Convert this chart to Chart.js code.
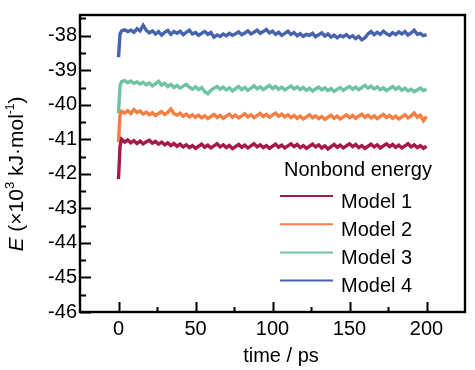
<!DOCTYPE html>
<html>
<head>
<meta charset="utf-8">
<script src="https://cdn.jsdelivr.net/npm/chart.js@4.4.0/dist/chart.umd.min.js"></script>
<style>
body{margin:0;background:#fff;}
#wrap{width:475px;height:370px;}
</style>
</head>
<body>
<div id="wrap"><canvas id="chart" width="475" height="370"></canvas></div>
<script>
// time axis (ps)
var time = [0,1,2,4,6,8,10,12,14,16,18,20,22,24,26,28,30,32,34,36,38,40,42,44,46,48,50,52,54,56,58,60,62,64,66,68,70,72,74,76,78,80,82,84,86,88,90,92,94,96,98,100,102,104,106,108,110,112,114,116,118,120,122,124,126,128,130,132,134,136,138,140,142,144,146,148,150,152,154,156,158,160,162,164,166,168,170,172,174,176,178,180,182,184,186,188,190,192,194,196,198,200];

// nonbond energy, x10^3 kJ/mol
var model1 = [-42.15,-41.20,-41.00,-41.08,-41.02,-41.10,-41.04,-41.12,-41.05,-41.13,-41.07,-41.03,-41.11,-41.06,-41.14,-41.08,-41.16,-41.10,-41.18,-41.12,-41.20,-41.14,-41.22,-41.16,-41.24,-41.18,-41.26,-41.20,-41.14,-41.23,-41.17,-41.25,-41.19,-41.13,-41.22,-41.16,-41.24,-41.18,-41.27,-41.21,-41.15,-41.23,-41.17,-41.25,-41.19,-41.13,-41.22,-41.16,-41.24,-41.18,-41.26,-41.20,-41.14,-41.23,-41.17,-41.25,-41.19,-41.13,-41.21,-41.15,-41.24,-41.18,-41.26,-41.20,-41.14,-41.22,-41.16,-41.25,-41.19,-41.28,-41.21,-41.15,-41.23,-41.17,-41.25,-41.19,-41.13,-41.21,-41.15,-41.24,-41.18,-41.26,-41.20,-41.14,-41.22,-41.16,-41.25,-41.19,-41.13,-41.21,-41.15,-41.23,-41.17,-41.25,-41.19,-41.13,-41.22,-41.16,-41.24,-41.18,-41.26,-41.20];
var model2 = [-41.08,-40.30,-40.19,-40.24,-40.17,-40.25,-40.14,-40.22,-40.18,-40.27,-40.21,-40.29,-40.23,-40.31,-40.25,-40.20,-40.28,-40.22,-40.12,-40.26,-40.30,-40.24,-40.33,-40.27,-40.35,-40.29,-40.36,-40.30,-40.38,-40.32,-40.40,-40.34,-40.28,-40.37,-40.31,-40.39,-40.33,-40.27,-40.36,-40.30,-40.38,-40.32,-40.26,-40.35,-40.29,-40.37,-40.31,-40.25,-40.34,-40.28,-40.36,-40.30,-40.24,-40.33,-40.27,-40.35,-40.29,-40.37,-40.31,-40.39,-40.33,-40.41,-40.35,-40.29,-40.38,-40.32,-40.40,-40.34,-40.42,-40.36,-40.30,-40.39,-40.33,-40.41,-40.35,-40.29,-40.37,-40.31,-40.39,-40.33,-40.27,-40.36,-40.30,-40.38,-40.32,-40.40,-40.34,-40.28,-40.37,-40.31,-40.39,-40.33,-40.41,-40.35,-40.29,-40.38,-40.32,-40.24,-40.36,-40.30,-40.46,-40.34];
var model3 = [-40.25,-39.45,-39.33,-39.30,-39.36,-39.31,-39.38,-39.34,-39.40,-39.35,-39.42,-39.37,-39.45,-39.39,-39.32,-39.43,-39.38,-39.47,-39.41,-39.50,-39.44,-39.52,-39.46,-39.41,-39.49,-39.55,-39.48,-39.56,-39.50,-39.62,-39.68,-39.58,-39.52,-39.47,-39.55,-39.49,-39.57,-39.51,-39.60,-39.53,-39.47,-39.56,-39.50,-39.58,-39.52,-39.45,-39.54,-39.48,-39.56,-39.50,-39.44,-39.53,-39.47,-39.55,-39.49,-39.57,-39.51,-39.46,-39.54,-39.48,-39.56,-39.50,-39.58,-39.52,-39.60,-39.54,-39.49,-39.57,-39.51,-39.59,-39.53,-39.61,-39.55,-39.50,-39.58,-39.52,-39.47,-39.55,-39.49,-39.56,-39.50,-39.44,-39.52,-39.46,-39.54,-39.48,-39.56,-39.51,-39.59,-39.53,-39.47,-39.55,-39.49,-39.58,-39.52,-39.60,-39.55,-39.62,-39.57,-39.51,-39.59,-39.54];
var model4 = [-38.62,-37.95,-37.86,-37.83,-37.88,-37.84,-37.90,-37.80,-37.86,-37.70,-37.84,-37.92,-37.86,-37.95,-37.88,-37.98,-37.90,-37.85,-37.96,-37.88,-37.93,-37.87,-37.97,-37.90,-37.84,-37.95,-37.91,-37.99,-37.93,-37.88,-37.96,-37.91,-38.04,-37.98,-38.02,-37.95,-38.00,-37.93,-37.99,-37.94,-37.89,-37.97,-37.92,-37.86,-37.95,-37.90,-37.84,-37.93,-37.88,-37.82,-37.92,-37.87,-37.96,-37.90,-37.99,-37.93,-37.87,-37.96,-37.91,-38.00,-37.94,-38.02,-37.96,-37.99,-37.93,-38.03,-37.97,-37.92,-38.01,-37.95,-38.04,-37.98,-38.06,-37.99,-38.03,-37.97,-38.05,-38.00,-38.08,-38.02,-38.12,-38.06,-37.95,-37.88,-37.97,-37.90,-37.96,-37.87,-37.94,-37.99,-37.91,-37.97,-37.89,-37.95,-37.88,-37.98,-37.92,-37.84,-37.96,-37.93,-38.00,-37.97];

var seriesNames = ['Model 1', 'Model 2', 'Model 3', 'Model 4'];
var seriesColors = ['#a5194a', '#f47e43', '#6fc2a2', '#4863ad'];
var legendTitle = 'Nonbond energy';
var xTicks = [0, 50, 100, 150, 200];
var xMinor = [25, 75, 125, 175];
var yTicks = [-46, -45, -44, -43, -42, -41, -40, -39, -38];
var yMinor = [-45.5, -44.5, -43.5, -42.5, -41.5, -40.5, -39.5, -38.5, -37.5];

var FONT = "'Liberation Sans', Arial, sans-serif";

function pts(vals) {
    return time.map(function(t, i) { return {x: t, y: vals[i]}; });
}

var allSeries = [model1, model2, model3, model4];
var datasets = allSeries.map(function(vals, i) {
    return {
        label: seriesNames[i],
        data: pts(vals),
        borderColor: seriesColors[i],
        borderWidth: 3.4,
        borderJoinStyle: 'miter',
        pointRadius: 0,
        tension: 0,
        fill: false
    };
});

// frame, inward ticks, axis titles and the legend inside the plot
var decor = {
    id: 'decor',
    afterDraw: function(chart) {
        var ctx = chart.ctx, a = chart.chartArea;
        var xs = chart.scales.x, ys = chart.scales.y;
        ctx.save();
        ctx.strokeStyle = '#000';
        ctx.lineWidth = 2;
        ctx.beginPath();
        xTicks.forEach(function(v) {
            var p = Math.round(xs.getPixelForValue(v)) + 0.5;
            ctx.moveTo(p, a.bottom); ctx.lineTo(p, a.bottom - 10);
        });
        xMinor.forEach(function(v) {
            var p = Math.round(xs.getPixelForValue(v)) + 0.5;
            ctx.moveTo(p, a.bottom); ctx.lineTo(p, a.bottom - 5);
        });
        yTicks.forEach(function(v) {
            var p = Math.round(ys.getPixelForValue(v)) + 0.5;
            ctx.moveTo(a.left, p); ctx.lineTo(a.left + 11, p);
        });
        yMinor.forEach(function(v) {
            var p = Math.round(ys.getPixelForValue(v)) + 0.5;
            ctx.moveTo(a.left, p); ctx.lineTo(a.left + 6, p);
        });
        ctx.stroke();
        ctx.lineWidth = 2.4;
        ctx.strokeRect(a.left, a.top, a.right - a.left, a.bottom - a.top);

        // x title
        ctx.fillStyle = '#000';
        ctx.font = '20px ' + FONT;
        ctx.textAlign = 'center';
        ctx.textBaseline = 'alphabetic';
        ctx.fillText('time / ps', 281, 362);

        // y title with italic E and superscripts
        var parts = [
            {t: 'E', f: 'italic 21px ' + FONT, dy: 0},
            {t: ' (\u00d710', f: '21px ' + FONT, dy: 0},
            {t: '3', f: '13px ' + FONT, dy: -9},
            {t: ' kJ\u00b7mol', f: '21px ' + FONT, dy: 0},
            {t: '-1', f: '12px ' + FONT, dy: -9},
            {t: ')', f: '21px ' + FONT, dy: 0}
        ];
        var total = 0;
        parts.forEach(function(p) { ctx.font = p.f; p.w = ctx.measureText(p.t).width; total += p.w; });
        ctx.translate(23, 174);
        ctx.rotate(-Math.PI / 2);
        ctx.textAlign = 'left';
        var cx = -total / 2;
        parts.forEach(function(p) {
            ctx.font = p.f;
            ctx.fillText(p.t, cx, p.dy);
            cx += p.w;
        });
        ctx.restore();

        // legend
        ctx.save();
        ctx.fillStyle = '#000';
        ctx.font = '20px ' + FONT;
        ctx.textBaseline = 'alphabetic';
        ctx.textAlign = 'left';
        ctx.fillText(legendTitle, 284, 176);
        chart.data.datasets.forEach(function(ds, i) {
            var y = 196 + i * 28.2;
            ctx.strokeStyle = ds.borderColor;
            ctx.lineWidth = 2;
            ctx.beginPath();
            ctx.moveTo(280, y); ctx.lineTo(333, y);
            ctx.stroke();
            ctx.fillText(ds.label, 341, y + 11.5);
        });
        ctx.restore();
    }
};

new Chart(document.getElementById('chart'), {
    type: 'line',
    data: {datasets: datasets},
    options: {
        responsive: false,
        animation: false,
        layout: {padding: {top: 3, right: 10, left: 0, bottom: 0}},
        plugins: {legend: {display: false}, tooltip: {enabled: false}},
        scales: {
            x: {
                type: 'linear',
                min: -25,
                max: 225,
                grid: {display: false, drawTicks: false},
                border: {display: false},
                afterBuildTicks: function(s) { s.ticks = xTicks.map(function(v) { return {value: v}; }); },
                afterFit: function(s) { s.height = 58; },
                ticks: {color: '#000', padding: 5, maxRotation: 0, font: {size: 20, family: FONT}}
            },
            y: {
                min: -46,
                max: -37.4,
                grid: {display: false, drawTicks: false},
                border: {display: false},
                afterBuildTicks: function(s) { s.ticks = yTicks.map(function(v) { return {value: v}; }); },
                afterFit: function(s) { s.width = 80; },
                ticks: {color: '#000', padding: 3, font: {size: 20, family: FONT}}
            }
        }
    },
    plugins: [decor]
});
</script>
</body>
</html>
